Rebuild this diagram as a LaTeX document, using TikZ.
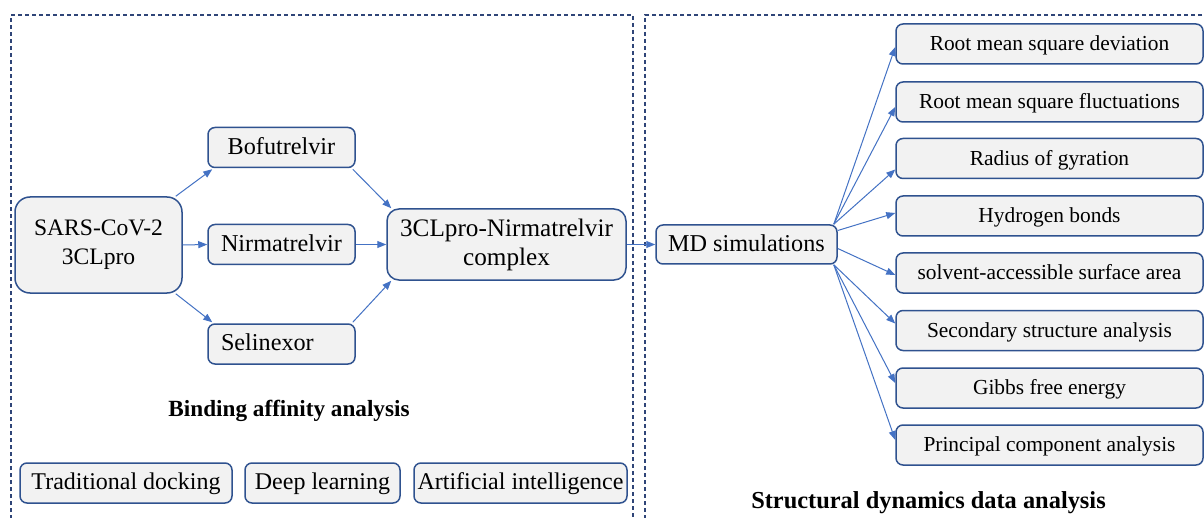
\documentclass[tikz,border=0pt]{standalone}
\usepackage{fontspec}
\setmainfont{Liberation Serif}
\usetikzlibrary{arrows.meta,calc}
\definecolor{boxline}{RGB}{47,82,143}
\definecolor{boxfill}{RGB}{242,242,242}
\definecolor{arrowblue}{RGB}{68,114,196}
\definecolor{framecol}{RGB}{47,69,120}
\begin{document}
\begin{tikzpicture}[x=0.5pt,y=-0.5pt,
  stage/.style={draw=boxline, fill=boxfill, line width=0.75pt, rounded corners=3.5pt,
    inner sep=0pt, align=center},
  oneline/.style={text height=0.68em, text depth=0pt},
  small/.style={stage, oneline, minimum width=73.5pt, minimum height=20pt, font=\fontsize{12.1}{14}\selectfont},
  metric/.style={stage, oneline, minimum width=153.5pt, minimum height=20pt, font=\fontsize{10.7}{13}\selectfont},
  method/.style={stage, oneline, minimum height=20pt, font=\fontsize{12}{14}\selectfont},
  link/.style={draw=arrowblue, line width=0.5pt, -{Triangle[length=4.5pt,width=3.5pt]}},
  frame/.style={draw=framecol, line width=0.75pt, dash pattern=on 2pt off 1.5pt},
  heading/.style={inner sep=0pt, font=\bfseries\fontsize{11.6}{14}\selectfont}]

\clip (0,0) rectangle (1204,518);
\fill[white] (0,0) rectangle (1204,518);

% dashed panels
\draw[frame] (11,540) -- (11,15) -- (633,15) -- (633,540);
\draw[frame] (1230,15) -- (645,15) -- (645,540);

% binding affinity panel
\node[stage, rounded corners=7.5pt, minimum width=83.5pt, minimum height=48pt,
  font=\fontsize{11.8}{14.5}\selectfont] (sars) at (98.5,245) {SARS-CoV-2\\3CLpro};
\node[small] (bofu) at (281.5,147.5) {Bofutrelvir};
\node[small] (nirm) at (281.5,244.5) {Nirmatrelvir};
\node[small, text width=60.5pt, align=left, inner xsep=6.5pt] (seli) at (281.5,344) {Selinexor};
\node[stage, rounded corners=6pt, minimum width=119.5pt, minimum height=35.5pt,
  font=\fontsize{12.6}{14.5}\selectfont] (cplx) at (506.5,244.5) {3CLpro-Nirmatrelvir\\complex};

\draw[link] ($(sars.north east)+(-7,0)$) -- ($(bofu.south west)+(5,1)$);
\draw[link] (sars.east) -- (nirm.west);
\draw[link] ($(sars.south east)+(-7,0)$) -- ($(seli.north west)+(5,-1)$);
\draw[link] ($(bofu.south east)+(-3,1)$) -- ($(cplx.north west)+(5,0)$);
\draw[link] (nirm.east) -- (cplx.west);
\draw[link] ($(seli.north east)+(-3,-1)$) -- ($(cplx.south west)+(5,0)$);

\node[heading] (bindtitle) at (289,411) {Binding affinity analysis};

\node[method, minimum width=106pt] (trad) at (126,483) {Traditional docking};
\node[method, minimum width=77.5pt] (deep) at (322.5,483) {Deep learning};
\node[method, minimum width=106.5pt] (ai) at (520.5,483) {Artificial intelligence};

% structural dynamics panel
\node[stage, oneline, minimum width=90.5pt, minimum height=19.5pt,
  font=\fontsize{12.1}{14}\selectfont] (md) at (746.5,244.5) {MD simulations};
\draw[link] (cplx.east) -- (md.west);

\node[metric] (r1) at (1049.5,44) {Root mean square deviation};
\node[metric] (r2) at (1049.5,102) {Root mean square fluctuations};
\node[metric] (r3) at (1049.5,158.5) {Radius of gyration};
\node[metric] (r4) at (1049.5,216) {Hydrogen bonds};
\node[metric] (r5) at (1049.5,273) {solvent-accessible surface area};
\node[metric] (r6) at (1049.5,330.5) {Secondary structure analysis};
\node[metric] (r7) at (1049.5,388) {Gibbs free energy};
\node[metric] (r8) at (1049.5,445) {Principal component analysis};

\coordinate (mdtop) at ($(md.north east)+(-4,0)$);
\coordinate (mdbot) at ($(md.south east)+(-4,0)$);
\draw[link] (mdtop) -- ($(r1.west)+(0,3)$);
\draw[link] (mdtop) -- ($(r2.west)+(0,5)$);
\draw[link] (mdtop) -- ($(r3.west)+(0,11)$);
\draw[link] ($(md.east)+(0,-14)$) -- ($(r4.west)+(0,-3)$);
\draw[link] ($(md.east)+(0,4)$) -- ($(r5.west)+(0,2)$);
\draw[link] (mdbot) -- ($(r6.west)+(0,-7)$);
\draw[link] (mdbot) -- ($(r7.west)+(0,-5)$);
\draw[link] (mdbot) -- ($(r8.west)+(0,-5)$);

\node[heading, font=\bfseries\fontsize{12.2}{14}\selectfont] (dyntitle) at (928.5,503)
  {Structural dynamics data analysis};
\end{tikzpicture}
\end{document}
